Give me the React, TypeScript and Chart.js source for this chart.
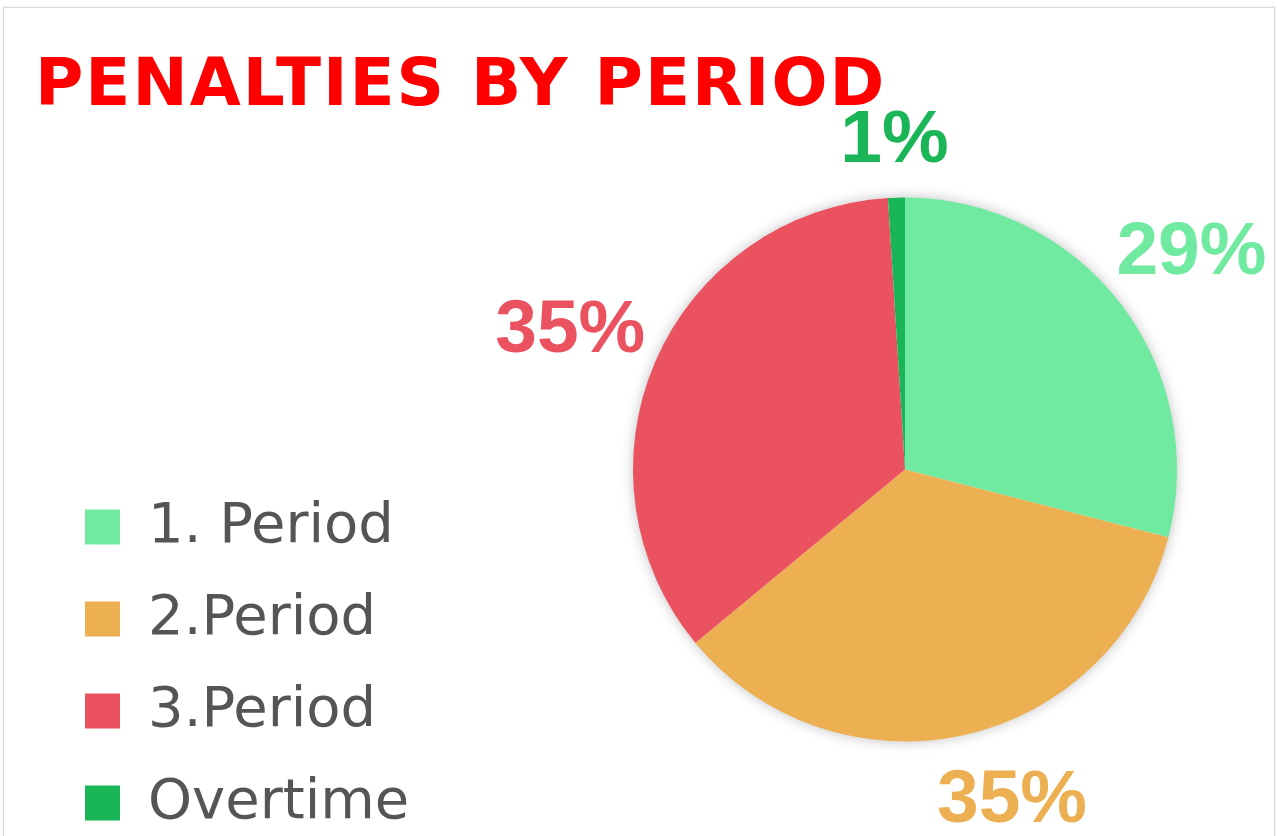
import React, { useEffect, useRef } from "react";
import { Chart, registerables } from "chart.js";

Chart.register(...registerables);

// ---- data ----
const titleText = "PENALTIES BY PERIOD";
const categories = ["1. Period", "2.Period", "3.Period", "Overtime"];
const shares = [29, 35, 35, 1];
const sliceColors = ["#70EAA0", "#ECB052", "#EB5260", "#1AB556"];

// ---- layout constants ----
const VIEW_W = 1277;
const CANVAS_W = 1420;
const CANVAS_H = 900;
const PIE_CX = 905;
const PIE_R = 272;
const LABEL_GAP = 45;
const LABEL_BOX_FACTOR = 0.6;
const LABEL_LIMIT_BOTTOM = 822;
const LABEL_CAP = 54;

const pieShadow = {
  id: "pieShadow",
  beforeDatasetsDraw(chart: any) {
    const meta = chart.getDatasetMeta(0);
    if (!meta.data.length) return;
    const arc = meta.data[0];
    const { x, y, outerRadius } = arc.getProps(["x", "y", "outerRadius"], true);
    const ctx = chart.ctx;
    ctx.save();
    ctx.shadowColor = "rgba(0,0,0,0.28)";
    ctx.shadowBlur = 14;
    ctx.fillStyle = "#ffffff";
    ctx.beginPath();
    ctx.arc(x, y, outerRadius - 1, 0, Math.PI * 2);
    ctx.fill();
    ctx.restore();
  },
};

const pieLabels = {
  id: "pieLabels",
  afterDatasetsDraw(chart: any) {
    const meta = chart.getDatasetMeta(0);
    const ctx = chart.ctx;
    const total = shares.reduce((a, b) => a + b, 0);
    ctx.save();
    ctx.font = 'bold 75px "Liberation Sans"';
    ctx.textAlign = "center";
    ctx.textBaseline = "alphabetic";
    meta.data.forEach((arc: any, i: number) => {
      const { x, y, startAngle, endAngle, outerRadius } = arc.getProps(
        ["x", "y", "startAngle", "endAngle", "outerRadius"],
        true
      );
      const text = Math.round((shares[i] / total) * 100) + "%";
      const w = ctx.measureText(text).width;
      let a = (startAngle + endAngle) / 2;
      const d =
        outerRadius +
        LABEL_GAP +
        LABEL_BOX_FACTOR *
          (Math.abs(Math.cos(a)) * (w / 2) + Math.abs(Math.sin(a)) * (LABEL_CAP / 2));
      let ly = y + Math.sin(a) * d;
      if (ly + LABEL_CAP / 2 > LABEL_LIMIT_BOTTOM) {
        const s = (LABEL_LIMIT_BOTTOM - LABEL_CAP / 2 - y) / d;
        a = Math.cos(a) >= 0 ? Math.asin(s) : Math.PI - Math.asin(s);
      }
      const lx = x + Math.cos(a) * d;
      ly = y + Math.sin(a) * d;
      ctx.fillStyle = sliceColors[i];
      ctx.fillText(text, lx, ly + LABEL_CAP / 2);
    });
    ctx.restore();
  },
};

const titlePlugin = {
  id: "cardTitle",
  afterDraw(chart: any) {
    const ctx = chart.ctx;
    ctx.save();
    ctx.font = 'bold 66px "DejaVu Sans"';
    (ctx as any).letterSpacing = "2px";
    ctx.fillStyle = "#ff0000";
    ctx.textAlign = "left";
    ctx.textBaseline = "alphabetic";
    ctx.fillText(titleText, 35, 105);
    (ctx as any).letterSpacing = "0px";
    ctx.restore();
  },
};

export default function App() {
  const ref = useRef<HTMLCanvasElement | null>(null);

  useEffect(() => {
    if (!ref.current) return;
    const chart = new Chart(ref.current, {
      type: "pie",
      data: {
        labels: categories,
        datasets: [
          {
            data: shares,
            backgroundColor: sliceColors,
            borderWidth: 0,
            radius: PIE_R,
          } as any,
        ],
      },
      options: {
        responsive: false,
        animation: false,
        layout: { padding: { left: 49, top: 72, bottom: 33, right: 0 } },
        plugins: {
          tooltip: { enabled: false },
          title: { display: false },
          legend: {
            position: "left",
            align: "end",
            labels: {
              boxWidth: 35,
              boxHeight: 35,
              padding: 36,
              color: "#555555",
              font: { family: "DejaVu Sans", size: 56, lineHeight: 1 },
            },
          },
        },
      },
      plugins: [pieShadow, pieLabels, titlePlugin],
    });
    const lr = (chart as any).legend.right;
    (chart.options.layout as any).padding.right = Math.max(0, lr + CANVAS_W - 2 * PIE_CX);
    chart.update();
    return () => chart.destroy();
  }, []);

  return (
    <div
      style={{
        position: "fixed",
        left: 0,
        top: 0,
        width: VIEW_W,
        height: 836,
        overflow: "hidden",
        background: "#ffffff",
      }}
    >
      <canvas
        ref={ref}
        width={CANVAS_W}
        height={CANVAS_H}
        style={{ position: "absolute", left: 0, top: 0, display: "block" }}
      />
      <div
        style={{
          position: "absolute",
          left: 3,
          top: 7,
          width: 1270,
          height: 1000,
          border: "1px solid #dcdcdc",
          boxShadow: "0 0 3px rgba(0,0,0,0.12)",
          pointerEvents: "none",
        }}
      />
    </div>
  );
}
